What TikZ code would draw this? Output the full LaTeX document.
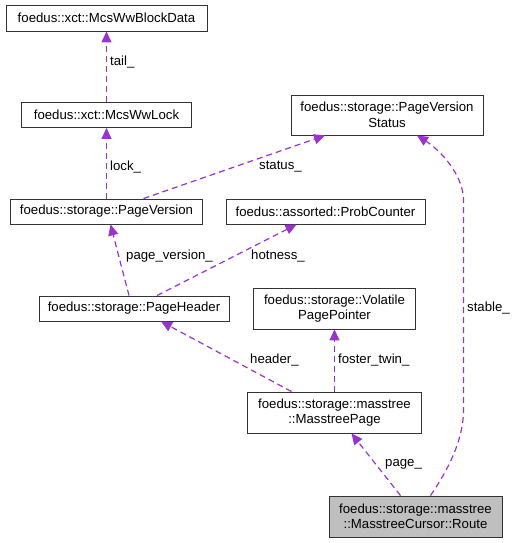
\documentclass[tikz,border=0pt]{standalone}
\usepackage{fontspec}
\setmainfont{Liberation Sans}
\usetikzlibrary{arrows.meta}
\definecolor{relcol}{HTML}{9A32CD}
\tikzset{
  cls/.style={draw=black!80, line width=0.9pt, align=center, inner sep=1pt,
    font=\fontsize{13.2}{15.5}\selectfont},
  lbl/.style={anchor=west, inner sep=0pt, font=\fontsize{13.2}{15.5}\selectfont},
  rel/.style={draw=relcol, line width=1.2pt, dash pattern=on 6pt off 4pt,
    -{Triangle[length=11pt, width=10pt, fill=relcol]}}
}
\begin{document}
\begin{tikzpicture}[x=1pt, y=-1pt]
      \useasboundingbox (0,0) rectangle (515,543);
      \draw
        (106.5,18) node[cls, minimum width=201pt, minimum height=26pt] (block){foedus::xct::McsWwBlockData}
        (106.5,115) node[cls, minimum width=170pt, minimum height=25pt] (lock){foedus::xct::McsWwLock}
        (387,115) node[cls, minimum width=192pt, minimum height=40pt] (status){foedus::storage::PageVersion\\Status}
        (106.5,211.5) node[cls, minimum width=192pt, minimum height=25pt] (pver){foedus::storage::PageVersion}
        (325.5,211.5) node[cls, minimum width=199pt, minimum height=25pt] (prob){foedus::assorted::ProbCounter}
        (134,308.5) node[cls, minimum width=190pt, minimum height=25pt] (header){foedus::storage::PageHeader}
        (334.5,308.5) node[cls, minimum width=162pt, minimum height=41pt] (vpp){foedus::storage::Volatile\\PagePointer}
        (334.5,412.5) node[cls, minimum width=174pt, minimum height=41pt] (mpage){foedus::storage::masstree\\::MasstreePage}
        (415.5,516.5) node[cls, fill=black!25, minimum width=173pt, minimum height=41pt] (route){foedus::storage::masstree\\::MasstreeCursor::Route};
      \begin{scope}[rel]
        \draw (lock.north) to (block.south);
        \draw (pver.north) to (lock.south);
        \draw ([xshift=37pt]pver.north) to ([xshift=-62pt]status.south);
        \draw ([xshift=-5pt]header.north) to ([xshift=4pt]pver.south);
        \draw ([xshift=23pt]header.north) to ([xshift=-29pt]prob.south);
        \draw ([xshift=-43pt]mpage.north) to ([xshift=27pt]header.south);
        \draw (mpage.north) to (vpp.south);
        \draw ([xshift=-15pt]route.north) to ([xshift=17pt]mpage.south);
        \draw ([xshift=15pt]route.north) .. controls (448,470) and (463.5,440) .. (463.5,410)
          -- (463.5,200) .. controls (463.5,175) and (440,150) .. ([xshift=30pt]status.south);
      \end{scope}
      \node[lbl] (ltail) at (110,62) {tail\_};
      \node[lbl] (llock) at (110,167) {lock\_};
      \node[lbl] (lstatus) at (259,167) {status\_};
      \node[lbl] (lpver) at (126,256) {page\_version\_};
      \node[lbl] (lhot) at (251,256) {hotness\_};
      \node[lbl] (lheader) at (250,360) {header\_};
      \node[lbl] (lfoster) at (338,360) {foster\_twin\_};
      \node[lbl] (lpage) at (385,464) {page\_};
      \node[lbl] (lstable) at (467,308) {stable\_};
    \end{tikzpicture}
\end{document}
